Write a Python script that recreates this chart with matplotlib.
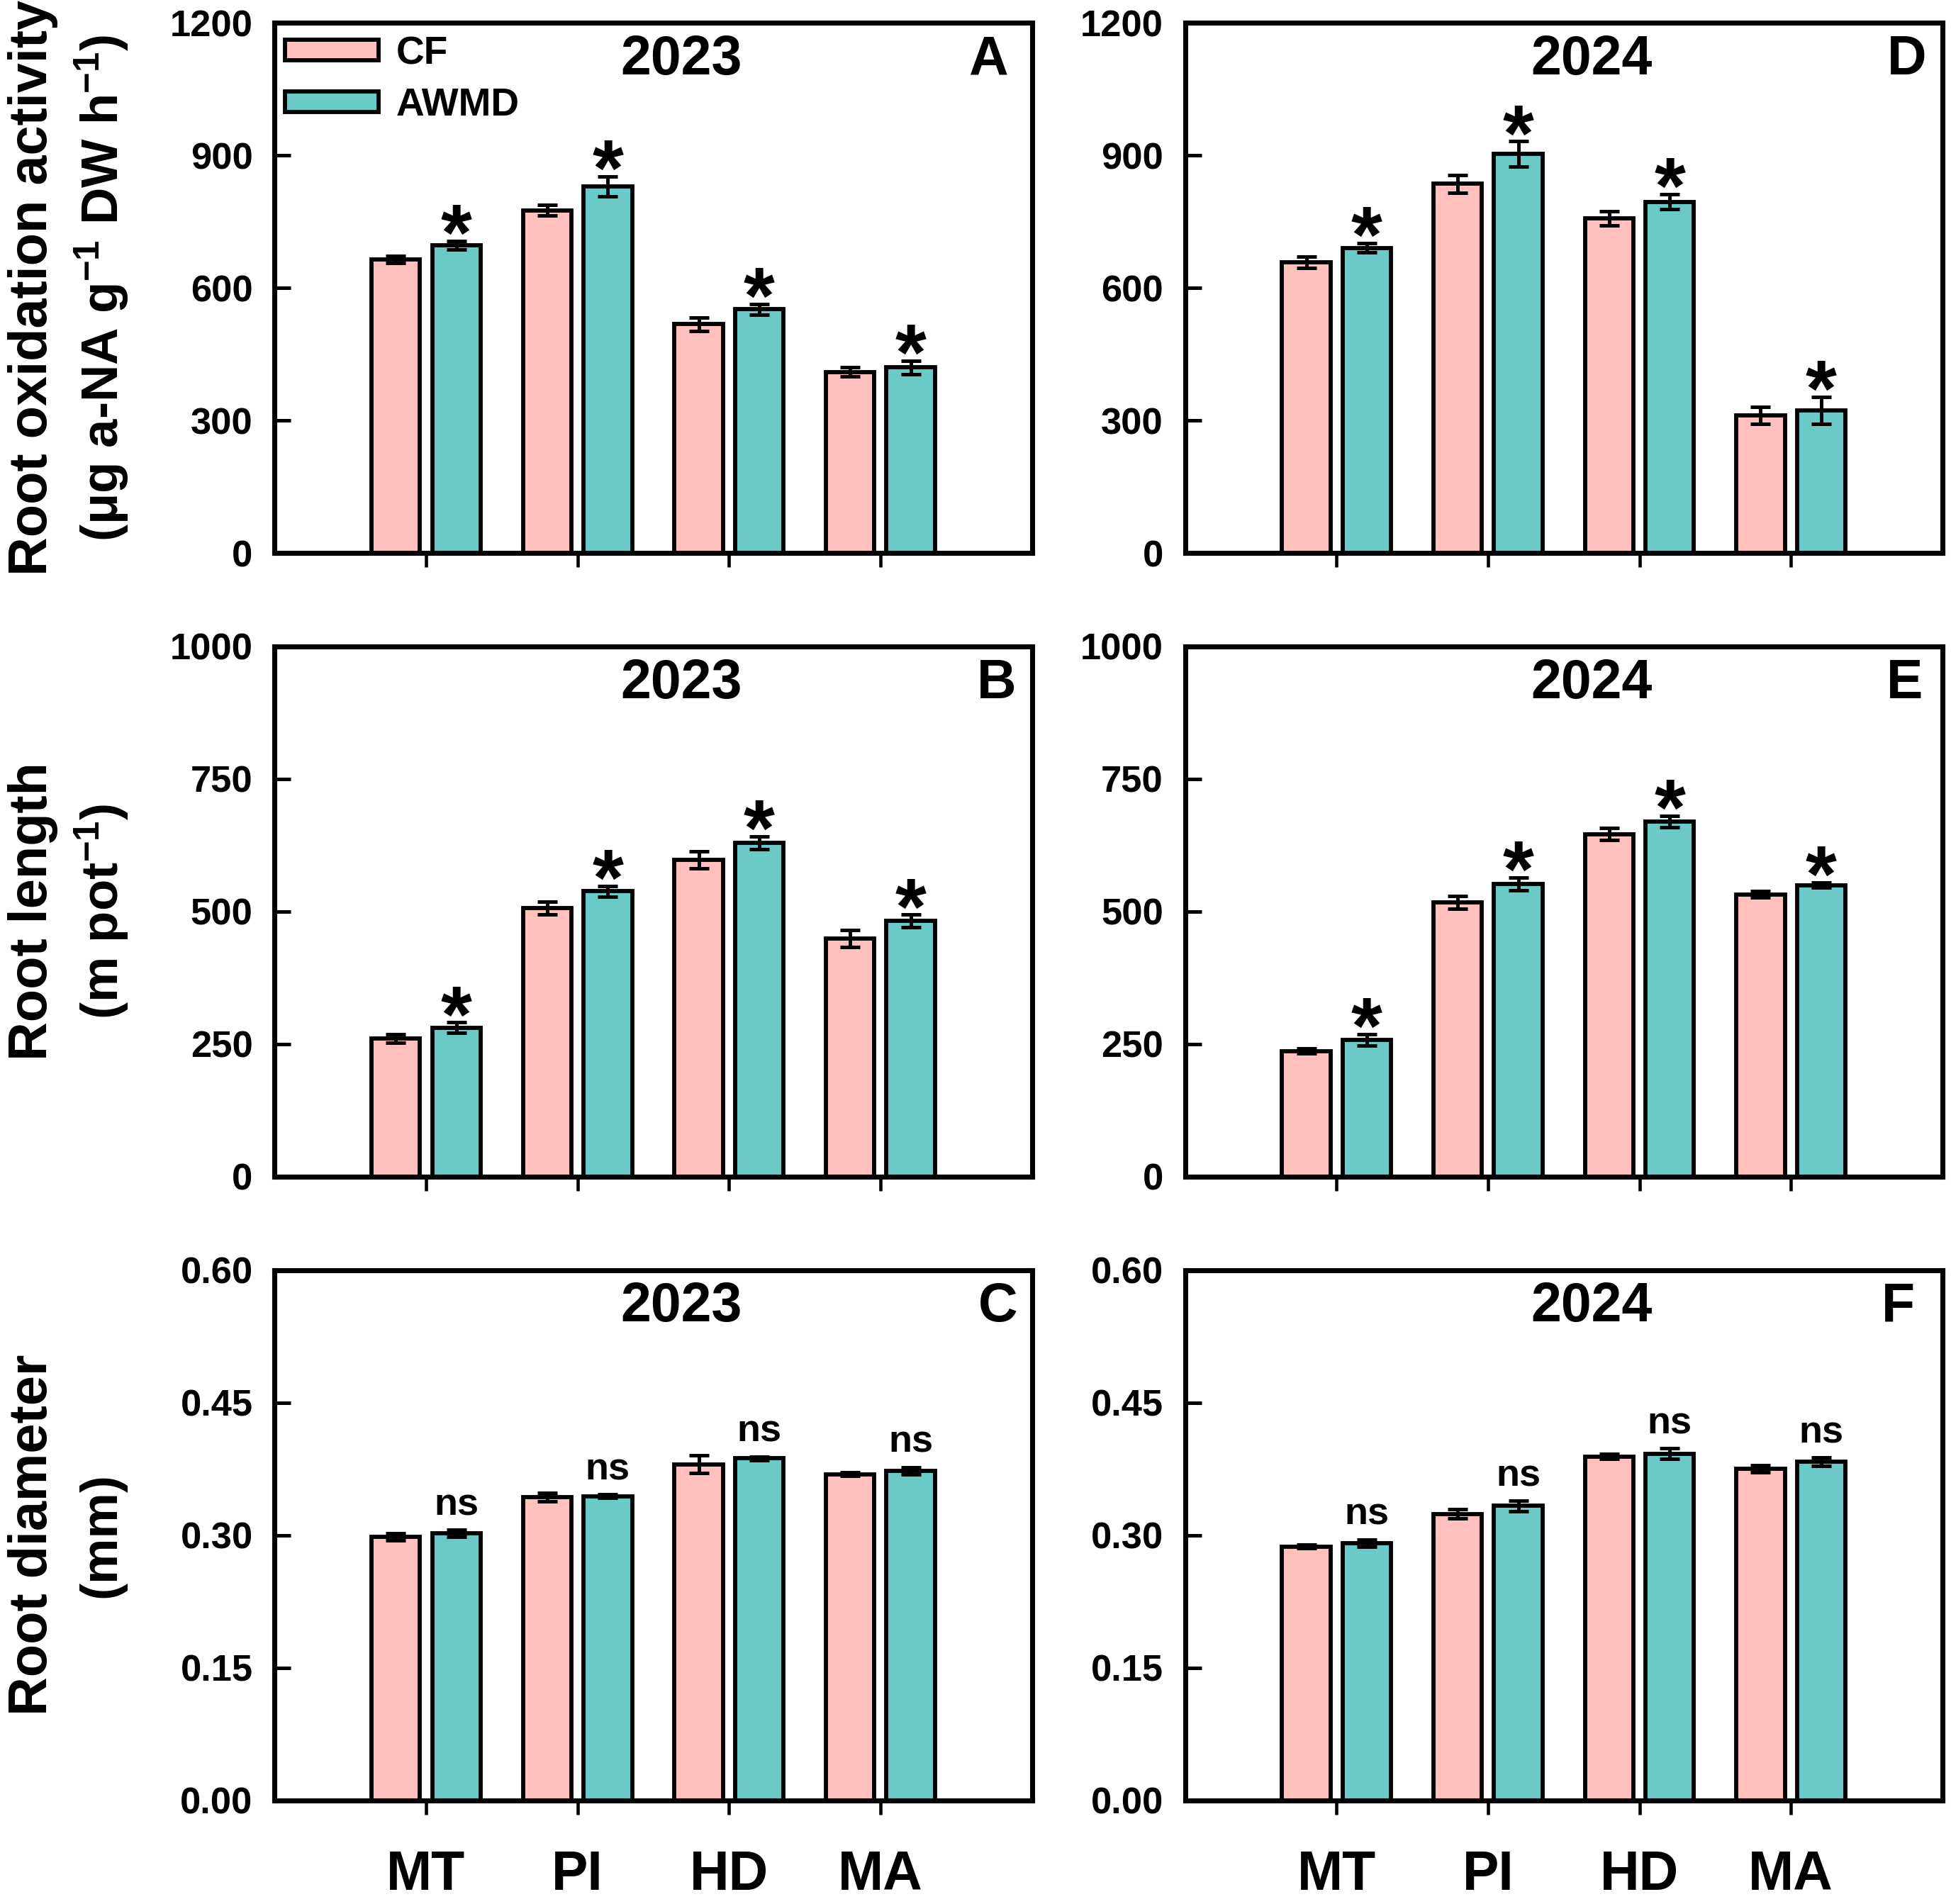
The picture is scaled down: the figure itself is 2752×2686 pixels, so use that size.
import numpy as np
import matplotlib
matplotlib.use('Agg')
import matplotlib.pyplot as plt

plt.rcParams['font.family'] = ['Liberation Sans', 'DejaVu Sans']
plt.rcParams['font.weight'] = 'bold'
plt.rcParams['mathtext.fontset'] = 'custom'
plt.rcParams['mathtext.rm'] = 'Liberation Sans:bold'
plt.rcParams['mathtext.bf'] = 'Liberation Sans:bold'
plt.rcParams['mathtext.default'] = 'bf'

# 数据
stages = ['MT', 'PI', 'HD', 'MA']
treatments = ['CF', 'AWMD']

# 根系氧化力
rox_2023_cf = [664, 776, 518, 410]
rox_2023_cf_se = [8, 12, 15, 10]
rox_2023_awmd = [697, 830, 552, 420]
rox_2023_awmd_se = [10, 22, 12, 15]
rox_2024_cf = [658, 836, 758, 312]
rox_2024_cf_se = [13, 20, 16, 19]
rox_2024_awmd = [691, 903, 795, 323]
rox_2024_awmd_se = [11, 29, 17, 31]

# 根长
len_2023_cf = [261, 506, 597, 449]
len_2023_cf_se = [8, 12, 16, 16]
len_2023_awmd = [281, 538, 630, 482]
len_2023_awmd_se = [10, 10, 12, 12]
len_2024_cf = [237, 517, 646, 532]
len_2024_cf_se = [5, 12, 11, 6]
len_2024_awmd = [258, 552, 670, 550]
len_2024_awmd_se = [11, 12, 11, 5]

# 根直径
dia_2023_cf = [0.298, 0.343, 0.380, 0.369]
dia_2023_cf_se = [0.004, 0.005, 0.010, 0.002]
dia_2023_awmd = [0.302, 0.344, 0.387, 0.373]
dia_2023_awmd_se = [0.004, 0.002, 0.002, 0.004]
dia_2024_cf = [0.287, 0.324, 0.389, 0.375]
dia_2024_cf_se = [0.002, 0.005, 0.003, 0.004]
dia_2024_awmd = [0.291, 0.333, 0.392, 0.383]
dia_2024_awmd_se = [0.004, 0.006, 0.006, 0.005]

sig_rox = ['*', '*', '*', '*']
sig_len = ['*', '*', '*', '*']
sig_dia = ['ns', 'ns', 'ns', 'ns']

ylim_rox = 1200
yticks_rox = [0, 300, 600, 900, 1200]
ylim_len = 1000
yticks_len = [0, 250, 500, 750, 1000]
ylim_dia = 0.60
yticks_dia = [0.00, 0.15, 0.30, 0.45, 0.60]
ytick_lbl_dia = ['0.00', '0.15', '0.30', '0.45', '0.60']

c_cf = '#FFC0BE'
c_awmd = '#6BCAC8'

fig = plt.figure(figsize=(2753 / 300, 2686 / 300), dpi=300)

lefts = [0.1407, 0.6072]
bottoms = [0.7095, 0.3820, 0.0545]
w, h = 0.3880, 0.2785

panels = [
    # (row, col, cf, cf_se, awmd, awmd_se, sig, ylim, ticks, ticklabels, year, letter, letter_x)
    (0, 0, rox_2023_cf, rox_2023_cf_se, rox_2023_awmd, rox_2023_awmd_se, sig_rox, ylim_rox, yticks_rox, None, '2023', 'A', 0.942),
    (1, 0, len_2023_cf, len_2023_cf_se, len_2023_awmd, len_2023_awmd_se, sig_len, ylim_len, yticks_len, None, '2023', 'B', 0.953),
    (2, 0, dia_2023_cf, dia_2023_cf_se, dia_2023_awmd, dia_2023_awmd_se, sig_dia, ylim_dia, yticks_dia, ytick_lbl_dia, '2023', 'C', 0.955),
    (0, 1, rox_2024_cf, rox_2024_cf_se, rox_2024_awmd, rox_2024_awmd_se, sig_rox, ylim_rox, yticks_rox, None, '2024', 'D', 0.953),
    (1, 1, len_2024_cf, len_2024_cf_se, len_2024_awmd, len_2024_awmd_se, sig_len, ylim_len, yticks_len, None, '2024', 'E', 0.950),
    (2, 1, dia_2024_cf, dia_2024_cf_se, dia_2024_awmd, dia_2024_awmd_se, sig_dia, ylim_dia, yticks_dia, ytick_lbl_dia, '2024', 'F', 0.942),
]

x = np.arange(1, len(stages) + 1)
bw = 0.32
off = 0.2

for row, col, cf, cfse, aw, awse, sig, ymax, ticks, tlbl, year, letter, lx in panels:
    ax = fig.add_axes([lefts[col], bottoms[row], w, h])
    b1 = ax.bar(x - off, cf, bw, color=c_cf, edgecolor='black', linewidth=1.4, label='CF', zorder=2)
    b2 = ax.bar(x + off, aw, bw, color=c_awmd, edgecolor='black', linewidth=1.4, label='AWMD', zorder=2)
    ax.errorbar(x - off, cf, yerr=cfse, fmt='none', ecolor='black', elinewidth=1.2,
                capsize=3.3, capthick=1.2, zorder=3)
    ax.errorbar(x + off, aw, yerr=awse, fmt='none', ecolor='black', elinewidth=1.2,
                capsize=3.3, capthick=1.2, zorder=3)
    for i in range(len(stages)):
        top = aw[i] + awse[i]
        if sig[i] == '*':
            ax.annotate('*', (x[i] + off, top), xytext=(0, -6.5), textcoords='offset points',
                        ha='center', va='baseline', fontsize=27, fontweight='bold')
        else:
            ax.annotate(sig[i], (x[i] + off, top), xytext=(0, 5.0), textcoords='offset points',
                        ha='center', va='baseline', fontsize=13, fontweight='bold')
    ax.set_xlim(0, 5)
    ax.set_ylim(0, ymax)
    ax.set_yticks(ticks)
    if tlbl is not None:
        ax.set_yticklabels(tlbl)
    ax.set_xticks(x)
    if row == 2:
        ax.set_xticklabels(stages, fontsize=18.5, fontweight='bold')
    else:
        ax.set_xticklabels([])
    ax.tick_params(axis='y', direction='in', length=5.5, width=1.2, pad=7.4, labelsize=12.6)
    ax.tick_params(axis='x', direction='out', length=4.8, width=1.1, pad=11.8)
    for sp in ax.spines.values():
        sp.set_linewidth(1.7)
    ax.text(0.537, 0.93, year, transform=ax.transAxes, ha='center', va='center',
            fontsize=18.5, fontweight='bold')
    ax.text(lx, 0.93, letter, transform=ax.transAxes, ha='center', va='center',
            fontsize=18.5, fontweight='bold')
    if row == 0 and col == 0:
        ax.legend(handles=[b1, b2], loc='upper left', bbox_to_anchor=(0.014, 0.976),
                  frameon=False, fontsize=13.2, handlelength=2.4, handleheight=0.45,
                  handletextpad=0.45, labelspacing=0.38, borderaxespad=0, borderpad=0)

# 纵轴标题
ylab1 = ['Root oxidation activity', 'Root length', 'Root diameter']
ylab2 = ['(\u03bcg a-NA g$^{-1}$ DW h$^{-1}$)', '(m pot$^{-1}$)', '(mm)']
for r in range(3):
    yc = bottoms[r] + h / 2
    fig.text(0.0170, yc, ylab1[r], rotation=90, ha='center', va='center', fontsize=18.2, fontweight='bold')
    fig.text(0.0522, yc, ylab2[r], rotation=90, ha='center', va='center', fontsize=17.4, fontweight='bold')

fig.savefig('out.png', dpi=300)
